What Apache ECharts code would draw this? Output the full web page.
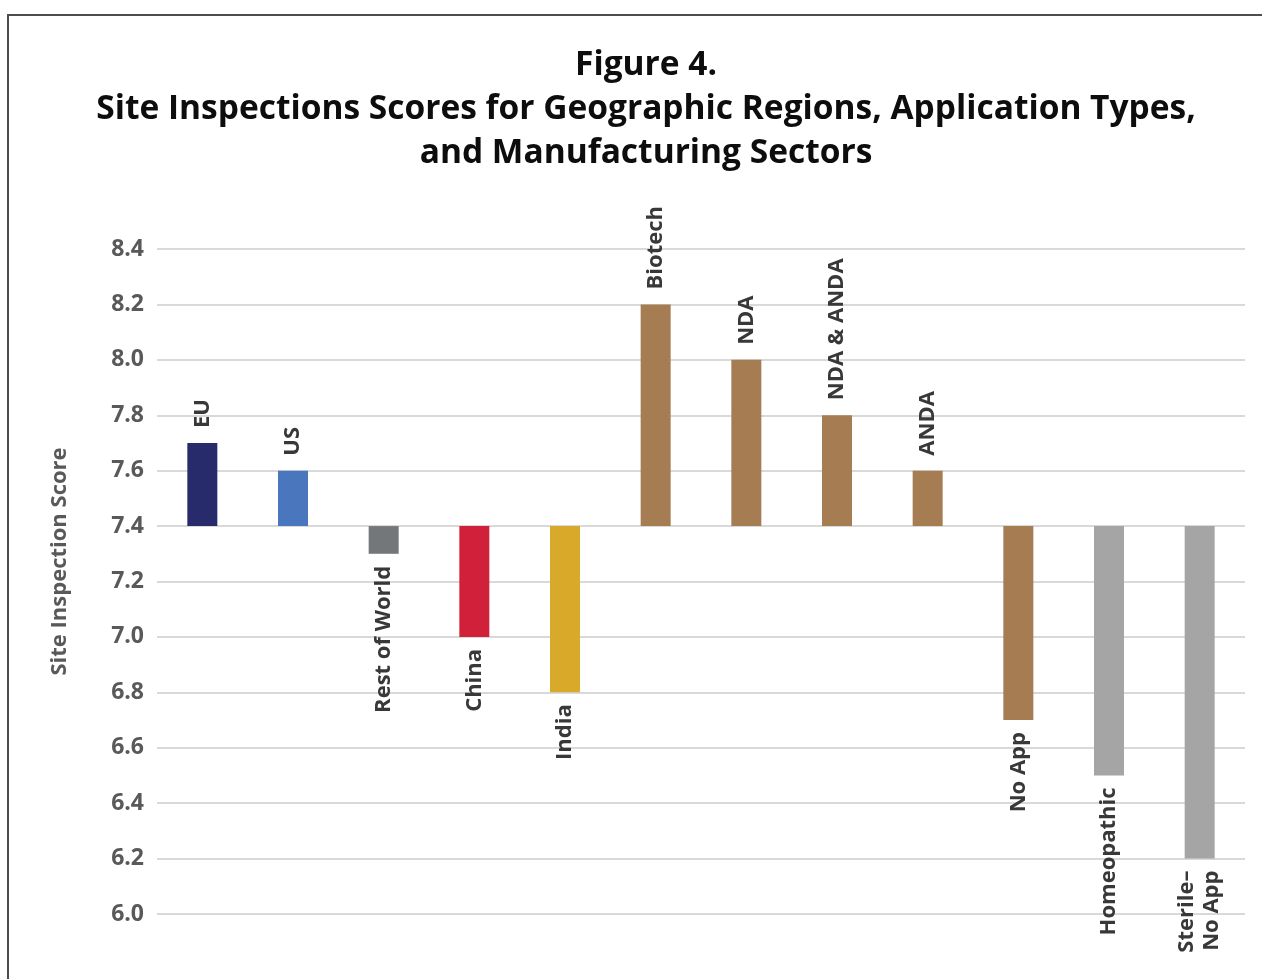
<!DOCTYPE html>
<html>
<head>
<meta charset="utf-8">
<script src="https://cdn.jsdelivr.net/npm/echarts@6/dist/echarts.min.js"></script>
<style>
html,body{margin:0;padding:0;background:#fff;}
#chart{width:1262px;height:979px;}
</style>
</head>
<body>
<div id="chart"></div>
<script>
var categories = ['EU','US','Rest of World','China','India','Biotech','NDA','NDA & ANDA','ANDA','No App','Homeopathic','Sterile–\nNo App'];
var scores = [7.7, 7.6, 7.3, 7.0, 6.8, 8.2, 8.0, 7.8, 7.6, 6.7, 6.5, 6.2];
var baseline = 7.4;
var barColors = ['#282b6b','#4a76bd','#74777a','#d12039','#d9a92a','#a67c52','#a67c52','#a67c52','#a67c52','#a67c52','#a5a5a5','#a5a5a5'];
var yTicks = {min: 6.0, max: 8.4, interval: 0.2};

var chart = echarts.init(document.getElementById('chart'));
var FONT = '"Open Sans", "Noto Sans", sans-serif';

chart.setOption({
  animation: false,
  backgroundColor: '#ffffff',
  graphic: [{
    type: 'rect',
    shape: {x: 8, y: 15, width: 1400, height: 1100},
    style: {fill: 'none', stroke: '#4d4d4d', lineWidth: 2},
    silent: true,
    z: 0
  }],
  title: {
    text: 'Figure 4.\nSite Inspections Scores for Geographic Regions, Application Types,\nand Manufacturing Sectors',
    left: 641,
    top: 38,
    textAlign: 'center',
    textStyle: {fontFamily: FONT, fontWeight: 'bold', fontSize: 33.5, lineHeight: 44, color: '#0d0d0d'}
  },
  grid: {left: 157, right: 17, top: 249, bottom: 65},
  xAxis: {
    type: 'category',
    data: categories,
    axisLine: {show: false},
    axisTick: {show: false},
    axisLabel: {show: false},
    splitLine: {show: false}
  },
  yAxis: {
    type: 'value',
    min: yTicks.min,
    max: yTicks.max,
    interval: yTicks.interval,
    name: 'Site Inspection Score',
    nameLocation: 'middle',
    nameGap: 86,
    nameTextStyle: {fontFamily: FONT, fontWeight: 'bold', fontSize: 22, color: '#595959', padding: [0, 0, 0, 40]},
    axisLine: {show: false},
    axisTick: {show: false},
    axisLabel: {
      margin: 13,
      fontFamily: FONT, fontWeight: 'bold', fontSize: 23, color: '#595959',
      formatter: function (v) { return v.toFixed(1); }
    },
    splitLine: {lineStyle: {color: '#d9d9d9', width: 2}}
  },
  series: [{
    type: 'custom',
    clip: false,
    data: scores.map(function (v, i) { return [i, v]; }),
    renderItem: function (params, api) {
      var i = api.value(0), v = api.value(1);
      var end = api.coord([i, v]);
      var base = api.coord([i, baseline]);
      var w = 30;
      var y0 = Math.min(end[1], base[1]);
      var h = Math.abs(end[1] - base[1]);
      var up = v >= baseline;
      return {
        type: 'group',
        children: [
          {type: 'rect', shape: {x: end[0] - w / 2, y: y0, width: w, height: h}, style: {fill: barColors[i]}},
          {type: 'text', x: end[0], y: up ? end[1] - 15 : end[1] + 12, rotation: Math.PI / 2,
           style: {text: categories[i], align: up ? 'left' : 'right', verticalAlign: 'middle',
                   font: 'bold 22px ' + FONT, fill: '#383838', lineHeight: 25}}
        ]
      };
    }
  }]
});
</script>
</body>
</html>
